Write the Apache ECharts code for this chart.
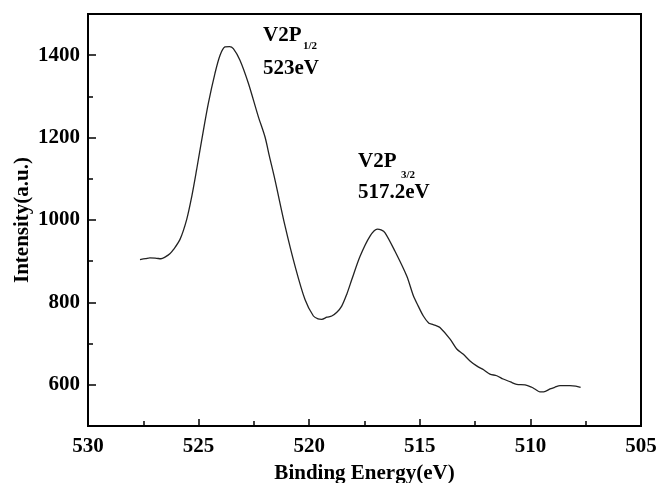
<!DOCTYPE html>
<html>
<head>
<meta charset="utf-8">
<script src="https://cdn.jsdelivr.net/npm/echarts@6/dist/echarts.min.js"></script>
<style>
html,body{margin:0;padding:0;background:#fff;}
#chart{width:658px;height:483px;}
</style>
</head>
<body>
<div id="chart"></div>
<script>
// Binding energy (eV) and intensity (a.u.)
var energy = [527.65,527.4,527.2,526.9,526.7,526.52,526.3,526.14,525.84,525.54,525.31,525.09,524.86,524.56,524.26,524.03,523.81,523.6,523.43,523.13,522.75,522.3,522.0,521.8,521.55,521.09,520.64,520.19,519.81,519.6,519.43,519.2,518.98,518.75,518.53,518.3,518.07,517.7,517.25,516.92,516.75,516.57,516.12,515.59,515.29,515.07,514.84,514.6,514.46,514.24,514.09,513.63,513.33,513.03,512.73,512.43,512.1,511.83,511.52,511.23,510.9,510.62,510.24,509.94,509.75,509.57,509.4,509.11,508.9,508.66,508.21,507.95,507.73];
var intensity = [904,906,908,907,906,910,918,928,953,1001,1057,1122,1194,1283,1356,1400,1420,1421,1416,1388,1332,1251,1202,1155,1098,985,888,807,767,760,759,764,767,776,791,820,856,912,961,978,976,969,924,864,816,791,767,750,747,743,739,711,687,674,658,646,636,626,622,614,607,601,600,594,588,583,583,590,594,598,598,597,594];
var xTicks = [530,525,520,515,510,505];
var yTickLabels = [600,800,1000,1200,1400];
var peakNames = ['V2P','V2P'];
var peakSubs = ['1/2','3/2'];
var peakEnergies = ['523eV','517.2eV'];

var FONT = '"Liberation Serif","Times New Roman",serif';
var points = energy.map(function(e,i){return [e,intensity[i]];});

var chart = echarts.init(document.getElementById('chart'));
var bigFont = 'bold 21px ' + FONT;
var subFont = 'bold 11px ' + FONT;
chart.setOption({
  animation:false,
  backgroundColor:'#fff',
  grid:{left:88,right:17,top:14,bottom:57,show:true,borderColor:'#000',borderWidth:2,backgroundColor:'transparent',
    containLabel:false,outerBoundsMode:'none'},
  xAxis:{
    type:'value', min:505, max:530, interval:5, inverse:true,
    name:'Binding Energy(eV)', nameLocation:'middle', nameGap:37, nameMoveOverlap:false,
    nameTextStyle:{fontFamily:FONT,fontWeight:'bold',fontSize:21,color:'#000'},
    axisLine:{show:true,lineStyle:{color:'#000',width:2}},
    axisTick:{show:true,inside:true,length:7,lineStyle:{color:'#000',width:1.5}},
    minorTick:{show:true,splitNumber:2,length:5,lineStyle:{color:'#000',width:1.5}},
    axisLabel:{margin:10,fontFamily:FONT,fontWeight:'bold',fontSize:21,color:'#000',
      formatter:function(v){return xTicks.indexOf(v)>=0?String(v):'';}},
    splitLine:{show:false}
  },
  yAxis:[{
    type:'value', min:500, max:1500, interval:100,
    name:'Intensity(a.u.)', nameLocation:'middle', nameGap:55, nameRotate:90, nameMoveOverlap:false,
    nameTextStyle:{fontFamily:FONT,fontWeight:'bold',fontSize:21,color:'#000'},
    axisLine:{show:true,lineStyle:{color:'#000',width:2}},
    axisTick:{show:true,inside:true,length:8,customValues:yTickLabels,lineStyle:{color:'#000',width:1.5}},
    axisLabel:{margin:8,customValues:yTickLabels,fontFamily:FONT,fontWeight:'bold',fontSize:21,color:'#000',
      formatter:function(v){return String(v);}},
    splitLine:{show:false}
  },{
    type:'value', min:500, max:1500, interval:100, position:'left',
    axisLine:{show:false},
    axisTick:{show:true,inside:true,length:5,lineStyle:{color:'#000',width:1.5}},
    axisLabel:{show:false},
    splitLine:{show:false}
  }],
  series:[{
    type:'line', data:points, showSymbol:false, smooth:0.3,
    lineStyle:{color:'#222',width:1.3}
  }],
  graphic:[
    {type:'text',left:263,top:25,style:{text:peakNames[0],font:bigFont,fill:'#000'}},
    {type:'text',left:303,top:41,style:{text:peakSubs[0],font:subFont,fill:'#000'}},
    {type:'text',left:263,top:58,style:{text:peakEnergies[0],font:bigFont,fill:'#000'}},
    {type:'text',left:358,top:151,style:{text:peakNames[1],font:bigFont,fill:'#000'}},
    {type:'text',left:401,top:170,style:{text:peakSubs[1],font:subFont,fill:'#000'}},
    {type:'text',left:358,top:182,style:{text:peakEnergies[1],font:bigFont,fill:'#000'}}
  ]
});
</script>
</body>
</html>
